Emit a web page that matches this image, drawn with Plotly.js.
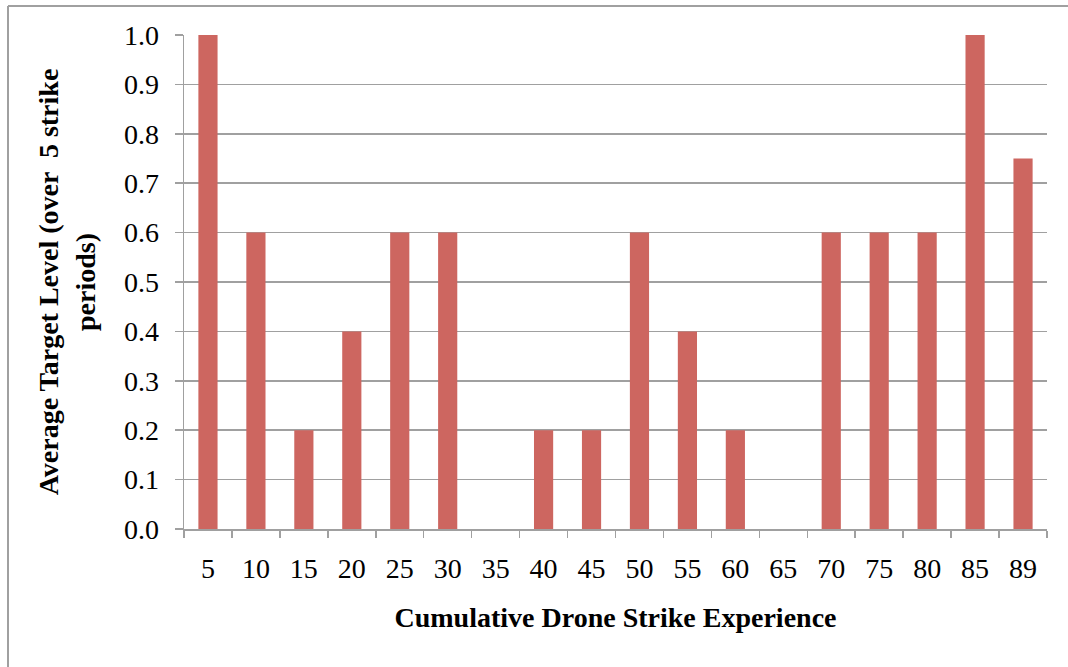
<!DOCTYPE html>
<html>
<head>
<meta charset="utf-8">
<script src="https://cdn.plot.ly/plotly-3.0.1.min.js"></script>
<style>
html,body{margin:0;padding:0;background:#fff;}
#chart{width:1068px;height:667px;}
</style>
</head>
<body>
<div id="chart"></div>
<script>
const categories = ["5","10","15","20","25","30","35","40","45","50","55","60","65","70","75","80","85","89"];
const values = [1.0,0.6,0.2,0.4,0.6,0.6,0,0.2,0.2,0.6,0.4,0.2,0,0.6,0.6,0.6,1.0,0.75];
const xTitle = "Cumulative Drone Strike Experience";
const yTitle = "Average Target Level (over  5 strike<br>periods)";

const FONT = "Liberation Serif, DejaVu Serif, serif";
const GRID = "#a0a0a0";

const W = 1068, H = 667;
const m = {l:184, r:21, t:35, b:138};
const pw = W - m.l - m.r, ph = H - m.t - m.b;
const px = v => (v - m.l) / pw;
const py = v => (H - m.b - v) / ph;

const trace = {
  type: "bar",
  x: categories,
  y: values,
  marker: {color: "#CD6660"},
  hoverinfo: "x+y"
};

const layout = {
  width: W, height: H,
  margin: m,
  paper_bgcolor: "#fff",
  plot_bgcolor: "#fff",
  showlegend: false,
  bargap: 0.6,
  font: {family: FONT, color: "#000", size: 28},
  xaxis: {
    type: "category",
    tickson: "boundaries",
    ticks: "outside",
    ticklen: 7,
    tickwidth: 1.5,
    tickcolor: GRID,
    showline: true,
    linecolor: GRID,
    linewidth: 1.5,
    showgrid: false,
    tickfont: {family: FONT, size: 28, color: "#000"},
    ticklabelstandoff: 14,
    title: {text: xTitle, font: {family: FONT, size: 28, color: "#000", weight: "bold"}, standoff: 24},
    automargin: false
  },
  yaxis: {
    range: [0, 1],
    dtick: 0.1,
    tick0: 0,
    tickformat: ".1f",
    ticks: "outside",
    ticklen: 8,
    tickwidth: 1.5,
    tickcolor: GRID,
    showline: true,
    linecolor: GRID,
    linewidth: 1.5,
    showgrid: true,
    gridcolor: GRID,
    gridwidth: 1.5,
    zeroline: false,
    tickfont: {family: FONT, size: 28, color: "#000"},
    ticklabelstandoff: 10,
    title: {text: yTitle, font: {family: FONT, size: 28, color: "#000", weight: "bold"}, standoff: 20},
    automargin: false
  },
  shapes: [
    {type: "line", xref: "paper", yref: "paper", x0: px(8), x1: px(8), y0: py(6), y1: py(H+5), line: {color: GRID, width: 2}},
    {type: "line", xref: "paper", yref: "paper", x0: px(8), x1: px(W+5), y0: py(6), y1: py(6), line: {color: GRID, width: 2}}
  ]
};

Plotly.newPlot("chart", [trace], layout, {displayModeBar: false, staticPlot: true});
</script>
</body>
</html>
